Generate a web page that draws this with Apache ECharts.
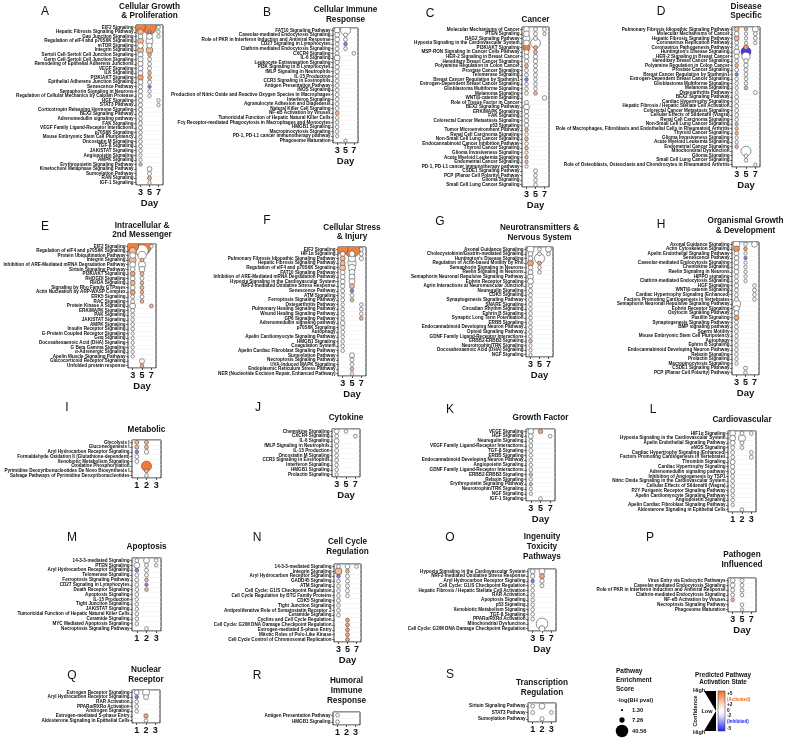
<!DOCTYPE html>
<html><head><meta charset="utf-8">
<script src="https://cdn.jsdelivr.net/npm/echarts/dist/echarts.min.js"></script>
<style>html,body{margin:0;padding:0;background:#fff}#chart{width:788px;height:742px}</style>
</head><body><div id="chart"></div>
<script>
const DAYS_357 = ['3','5','7'];
const DAYS_123 = ['1','2','3'];

const A_names = ['EIF2 Signaling','Hepatic Fibrosis Signaling Pathway','Gap Junction Signaling','Regulation of eIF4 and p70S6K Signaling','mTOR Signaling','Integrin Signaling','Sertoli Cell-Sertoli Cell Junction Signaling','Germ Cell-Sertoli Cell Junction Signaling','Remodeling of Epithelial Adherens Junctions','VEGF Signaling','ILK Signaling','PI3K/AKT Signaling','Epithelial Adherens Junction Signaling','Senescence Pathway','Semaphorin Signaling in Neurons','Regulation of Cellular Mechanics by Calpain Protease','HGF Signaling','STAT3 Pathway','Corticotropin Releasing Hormone Signaling','BEX2 Signaling Pathway','Adrenomedullin signaling pathway','FAK Signaling','VEGF Family Ligand-Receptor Interactions','p70S6K Signaling','Mouse Embryonic Stem Cell Pluripotency','Oncostatin M Signaling','TGF-β Signaling','JAK/STAT Signaling','Angiopoietin Signaling','AMPK Signaling','Erythropoietin Signaling Pathway','Kinetochore Metaphase Signaling Pathway','Sumoylation Pathway','RAN Signaling','IGF-1 Signaling'];
const A_sizes = [
 [26,9,6,9,8, 9,7,7,7,6, 6,8,6,5,5, 5,4.5,4.5,4.5,4, 4,4,4,3.5,3.5, 3.5,3.5,3.5,3,3, 3],
 [50,2.5,9,14,7, 12,3.5,4,4,4, 3.5,4,4,3,3, 3,0,0,0,0, 0,0,0,0,0, 0,0,0,0,0, 0,6,4,4,3],
 [3.5,3,3,0,0, 0,0,0,0,0, 0,0,0,0,0, 0,3,3]];
const A_zs = [
 [4.5,3,0,3,0, 3,0,0,0,0, 0,3.5,0,0,0, 0,0,0,0,0, 0,0,0,0,0, 0,0,0,0,0, 3],
 [4.5,-3,0,0,0, 3,3,0,0,0, 3,3,0,-3.5,0, 0,0,0,0,0, 0,0,0,0,0, 0,0,0,0,0, 0,0,0,3],
 []];

const B_names = ['FAT10 Signaling Pathway','Caveolar-mediated Endocytosis Signaling','Role of PKR in Interferon Induction and Antiviral Response','CD27 Signaling in Lymphocytes','Clathrin-mediated Endocytosis Signaling','CXCR4 Signaling','IL-6 Signaling','Leukocyte Extravasation Signaling','PI3K Signaling in B Lymphocytes','fMLP Signaling in Neutrophils','IL-15 Production','CCR3 Signaling in Eosinophils','Antigen Presentation Pathway','iNOS Signaling','Production of Nitric Oxide and Reactive Oxygen Species in Macrophages','Interferon Signaling','Agranulocyte Adhesion and Diapedesis','Natural Killer Cell Signaling','NF-κB Activation by Viruses','Tumoricidal Function of Hepatic Natural Killer Cells','Fcγ Receptor-mediated Phagocytosis in Macrophages and Monocytes','HMGB1 Signaling','Macropinocytosis Signaling','PD-1, PD-L1 cancer immunotherapy pathway','Phagosome Maturation'];
const B_sizes = [
 [9,6,6,4,4, 4,9,5,5,5, 4,4,4,4,4, 4,4,4,4,3.5, 3.5,3.5,3.5,3],
 [26,4,4,3.5,3.5, 0,0,0,0,0, 0,0,0,0,0, 0,0,0,0,0, 0,0,0,0,3],
 [0,0,0,0,0, 3.5]];
const B_zs = [[0,0,0,0,0, 0,0,0,0,0, 0,0,0,0,0, 0,0,0,3],[0,0,0,-3.5],[]];

const C_names = ['Molecular Mechanisms of Cancer','PTEN Signaling','BAG2 Signaling Pathway','Hypoxia Signaling in the Cardiovascular System','PI3K/AKT Signaling','MSP-RON Signaling In Cancer Cells Pathway','HER-2 Signaling in Breast Cancer','Hereditary Breast Cancer Signaling','Polyamine Regulation in Colon Cancer','Prostate Cancer Signaling','Telomerase Signaling','Breast Cancer Regulation by Stathmin1','Estrogen-Dependent Breast Cancer Signaling','Glioblastoma Multiforme Signaling','Melanoma Signaling','WNT/β-catenin Signaling','Role of Tissue Factor in Cancer','BEX2 Signaling Pathway','ERK/MAPK Signaling','FAK Signaling','Colorectal Cancer Metastasis Signaling','p53 Signaling','Tumor Microenvironment Pathway','Renal Cell Carcinoma Signaling','Non-Small Cell Lung Cancer Signaling','Endocannabinoid Cancer Inhibition Pathway','Thyroid Cancer Signaling','Glioma Invasiveness Signaling','Acute Myeloid Leukemia Signaling','Endometrial Cancer Signaling','PD-1, PD-L1 cancer immunotherapy pathway','CSDE1 Signaling Pathway','PCP (Planar Cell Polarity) Pathway','Glioma Signaling','Small Cell Lung Cancer Signaling'];
const C_sizes = [
 [9,9,13,9,13, 6,6,5,4,4, 4,3.5,3.5,3.5,3.5, 0,4,9,5,5, 5,5,3.5,3.5,3.5, 3.5,3.5,3,3,3, 3],
 [4,4,4,26,4, 4,5,5,4,4, 4,3.5,3.5,3.5,3.5, 0,0,0,0,0, 0,0,0,0,0, 0,0,0,0,0, 0,4,3.5,3.5,3.5],
 [4,3,0,0,0, 0,0,0,0,0, 0,0,0,0,0, 5]];
const C_zs = [
 [0,0,0,0,4.5, 0,0,0,3,0, 0,-3.5,0,0,0, 0,0,0,0,0, 0,0,3,0,3, 0,3,0,3,3],
 [0,0,0,0,3.5, 3,0,0,0,0, 0,0,0,0,3],
 []];

const D_names = ['Pulmonary Fibrosis Idiopathic Signaling Pathway','Molecular Mechanisms of Cancer','Hepatic Fibrosis Signaling Pathway','Coronavirus Replication Pathway','Coronavirus Pathogenesis Pathway',"Huntington's Disease Signaling",'HER-2 Signaling in Breast Cancer','Hereditary Breast Cancer Signaling','Polyamine Regulation in Colon Cancer','Prostate Cancer Signaling','Breast Cancer Regulation by Stathmin1','Estrogen-Dependent Breast Cancer Signaling','Glioblastoma Multiforme Signaling','Melanoma Signaling','Osteoarthritis Pathway','BEX2 Signaling Pathway','Cardiac Hypertrophy Signaling','Hepatic Fibrosis / Hepatic Stellate Cell Activation','Colorectal Cancer Metastasis Signaling','Cellular Effects of Sildenafil (Viagra)','Renal Cell Carcinoma Signaling','Non-Small Cell Lung Cancer Signaling','Role of Macrophages, Fibroblasts and Endothelial Cells in Rheumatoid Arthritis','Thyroid Cancer Signaling','Glioma Invasiveness Signaling','Acute Myeloid Leukemia Signaling','Endometrial Cancer Signaling','Mitochondrial Dysfunction','Glioma Signaling','Small Cell Lung Cancer Signaling','Role of Osteoblasts, Osteoclasts and Chondrocytes in Rheumatoid Arthritis'];
const D_sizes = [
 [6.5,6,6.5,4,4, 9,6,4,3.5,4, 3,3.5,3.5,3,3, 4,4,4,4,4, 3.5,3,3,3,3, 3,3.5],
 [3,3,3,3,6, 26,17,5,5,4, 4,3.5,3.5,3.5,0, 0,0,0,0,0, 0,0,0,0,0, 0,0,26,3.5,3.5],
 [9,4,4,3,0, 0,0,0,0,0, 0,0,0,0,4, 0,0,0,0,0, 0,0,0,0,0, 0,0,0,0,0, 3]];
const D_zs = [
 [3,0,3,0,0, 0,0,0,3,0, -3.5,0,0,0,0, 0,0,0,0,0, 0,3,3,3,0, 0,3],
 [3,0,0,0,4, -4.6,0,0,0,0, 0,0,0,3],
 []];

const E_names = ['EIF2 Signaling','Regulation of eIF4 and p70S6K Signaling','Protein Ubiquitination Pathway','Integrin Signaling','Inhibition of ARE-Mediated mRNA Degradation Pathway','Sirtuin Signaling Pathway','PI3K/AKT Signaling','RHOGDI Signaling','RHOA Signaling','Signaling by Rho Family GTPases','Actin Nucleation by ARP-WASP Complex','ERK5 Signaling','RAC Signaling','Protein Kinase A Signaling','ERK/MAPK Signaling','PAK Signaling','JAK/STAT Signaling','AMPK Signaling','Insulin Receptor Signaling','G-Protein Coupled Receptor Signaling','Gαq Signaling','Docosahexaenoic Acid (DHA) Signaling','G Beta Gamma Signaling','α-Adrenergic Signaling','Apelin Muscle Signaling Pathway','Glucocorticoid Receptor Signaling','Unfolded protein response'];
const E_sizes = [
 [37,13,9,13,9, 6,6.5,6,6,6, 6.5,4,4,9,4, 3.5,3.5,3.5,3.5,3, 3,3,3,3,3],
 [90,40,17,3.5,13, 9,4,4,3.5,4, 3.5,4,3.5,0,0, 0,0,0,0,0, 0,0,0,0,0, 6.5,3.5],
 [3.5,0,0,0,0, 0,0,0,0,0, 0,0,0,3.5]];
const E_zs = [
 [4.5,3,0,3,0, 0,3.5,0,3,0, 3.5],
 [4.5,0,0,3,0, 0,3,0,3,3, 3,0,3,0,0, 0,0,0,0,0, 0,0,0,0,0, 0,3],
 [0,0,0,0,0, 0,0,0,0,0, 0,0,0,3]];

const F_names = ['EIF2 Signaling','HIF1α Signaling','Pulmonary Fibrosis Idiopathic Signaling Pathway','Hepatic Fibrosis Signaling Pathway','Regulation of eIF4 and p70S6K Signaling','FAT10 Signaling Pathway','Inhibition of ARE-Mediated mRNA Degradation Pathway','Hypoxia Signaling in the Cardiovascular System','NRF2-mediated Oxidative Stress Response','Senescence Pathway','ATM Signaling','Ferroptosis Signaling Pathway','Osteoarthritis Pathway','Pulmonary Healing Signaling Pathway','Wound Healing Signaling Pathway','GP6 Signaling Pathway','Adrenomedullin signaling pathway','p70S6K Signaling','Autophagy','Apelin Cardiomyocyte Signaling Pathway','HMGB1 Signaling','Coagulation System','Apelin Cardiac Fibroblast Signaling Pathway','Sumoylation Pathway','Necroptosis Signaling Pathway','UVA-Induced MAPK Signaling','Endoplasmic Reticulum Stress Pathway','NER (Nucleotide Excision Repair, Enhanced Pathway)'];
const F_sizes = [
 [30,6.5,6.5,6.5,9, 6,6,6,5,4, 4,4,3.5,3.5,3.5, 3.5,6,4,4,3.5, 3.5,3.5,3.5],
 [66,9,13,17,13, 9,9,9,6,3.5, 4,3.5,0,0,0, 0,0,0,0,0, 0,0,0,6.5,4, 3.5,3.5,3],
 [3.5,4.5,4.5,0,0, 0,0,0,0,0, 0,0,3.5,3.5,3.5, 3.5]];
const F_zs = [
 [4.5,0,3,3,2.8],
 [4.5,0,0,0,0, 0,0,0,3,-3.5, 0,3,0,0,0, 0,0,0,0,0, 0,0,0,0,0, 0,3],
 [0,0,0,0,0, 0,0,0,0,0, 0,0,0,0,0, 3]];

const G_names = ['Axonal Guidance Signaling','Cholecystokinin/Gastrin-mediated Signaling',"Huntington's Disease Signaling",'Regulation of Actin-based Motility by Rho','Semaphorin Signaling in Neurons','Reelin Signaling in Neurons','Semaphorin Neuronal Repulsive Signaling Pathway','Ephrin Receptor Signaling','Agrin Interactions at Neuromuscular Junction','Neuregulin Signaling','CDK5 Signaling','Synaptogenesis Signaling Pathway','SNARE Signaling','Circadian Rhythm Signaling','Ephrin B Signaling','Synaptic Long Term Potentiation','ERBB Signaling','Endocannabinoid Developing Neuron Pathway','Opioid Signaling Pathway','GDNF Family Ligand-Receptor Interactions','ERBB2-ERBB3 Signaling','Neurotrophin/TRK Signaling','Docosahexaenoic Acid (DHA) Signaling','NGF Signaling'];
const G_sizes = [
 [13,6,6,9,6, 6,9,9,4,4, 4,4,3.5,3.5,3.5, 3.5,3.5,3.5,3.5,3.5, 3.5,3,3,3],
 [3.5,3.5,26,4,3.5, 3.5],
 [9,3.5]];
const G_zs = [[0,0,0,3.5,0, 0,0,0,0,0, 0,0,0,0,0, 0,0,0,0,0, 3],[0,0,0,3.5],[]];

const H_names = ['Axonal Guidance Signaling','Actin Cytoskeleton Signaling','Apelin Endothelial Signaling Pathway','Senescence Pathway','Caveolar-mediated Endocytosis Signaling','Chemokine Signaling','Reelin Signaling in Neurons','HIPPO signaling','Clathrin-mediated Endocytosis Signaling','HGF Signaling','WNT/β-catenin Signaling','Cardiac Hypertrophy Signaling (Enhanced)','Factors Promoting Cardiogenesis in Vertebrates','Semaphorin Neuronal Repulsive Signaling Pathway','Ephrin Receptor Signaling','Oxytocin Signaling Pathway','Paxillin Signaling','Synaptogenesis Signaling Pathway','BMP signaling pathway','Sperm Motility','Mouse Embryonic Stem Cell Pluripotency','Autophagy','Ephrin B Signaling','Endocannabinoid Developing Neuron Pathway','Relaxin Signaling','Prolactin Signaling','Macropinocytosis Signaling','CSDE1 Signaling Pathway','PCP (Planar Cell Polarity) Pathway'];
const H_sizes = [
 [13,9,6,6,6, 6,6,4,4,5, 4,4,4,17,9, 6,6.5,4,4,4, 3.5,3.5,3.5,3.5,3.5, 3,3],
 [3.5,3.5,3,3,3, 3,3,3,3,0, 0,0,0,0,0, 0,0,0,0,0, 0,0,0,0,0, 0,0,4,3.5],
 [9,0,0,0,0, 0,0,0,0,3.5, 4,3.5,3.5]];
const H_zs = [[0,4,0,0,0, 0,0,0,0,0, 0,0,0,0,0, 0,3.5],[0,3.5,0,-3.5],[]];

const I_names = ['Glycolysis I','Gluconeogenesis I','Aryl Hydrocarbon Receptor Signaling','Formaldehyde Oxidation II (Glutathione-dependent)','Xenobiotic Metabolism Signaling','Oxidative Phosphorylation','Pyrimidine Deoxyribonucleotides De Novo Biosynthesis I','Salvage Pathways of Pyrimidine Deoxyribonucleotides'];
const I_sizes = [[4,4,3.5,4,4],[4,4,5,0,0, 26,4,3.5],[]];
const I_zs = [[3,3,-3.5],[3,3,0,0,0, 4.6,3],[]];

const J_names = ['Chemokine Signaling','CXCR4 Signaling','IL-6 Signaling','fMLP Signaling in Neutrophils','IL-15 Production','Oncostatin M Signaling','CCR3 Signaling in Eosinophils','Interferon Signaling','HMGB1 Signaling','Prolactin Signaling'];
const J_sizes = [[6,4,6,4,4, 4,4,3.5,3.5,3],[3.5],[0,3.5]];
const J_zs = [[],[],[]];

const K_names = ['VEGF Signaling','HGF Signaling','Neuregulin Signaling','VEGF Family Ligand-Receptor Interactions','TGF-β Signaling','ERBB Signaling','Endocannabinoid Developing Neuron Pathway','Angiopoietin Signaling','GDNF Family Ligand-Receptor Interactions','ERBB2-ERBB3 Signaling','Relaxin Signaling','Erythropoietin Signaling Pathway','Neurotrophin/TRK Signaling','NGF Signaling','IGF-1 Signaling'];
const K_sizes = [[9,6,4,4,4, 3.5,3.5,3.5,3.5,3.5, 3.5,3,3,3],[5,0,0,0,0, 0,0,0,0,0, 0,0,0,0,3.5],[0,3.5]];
const K_zs = [[0,0,0,0,0, 0,0,0,0,3, 0,3],[3.5],[]];

const L_names = ['HIF1α Signaling','Hypoxia Signaling in the Cardiovascular System','Apelin Endothelial Signaling Pathway','eNOS Signaling','Cardiac Hypertrophy Signaling (Enhanced)','Factors Promoting Cardiogenesis in Vertebrates','Thrombin Signaling','Cardiac Hypertrophy Signaling','Adrenomedullin signaling pathway','Inhibition of Angiogenesis by TSP1','Nitric Oxide Signaling in the Cardiovascular System','Cellular Effects of Sildenafil (Viagra)','P2Y Purigenic Receptor Signaling Pathway','Apelin Cardiomyocyte Signaling Pathway','Angiopoietin Signaling','Apelin Cardiac Fibroblast Signaling Pathway','Aldosterone Signaling in Epithelial Cells'];
const L_sizes = [[9,9,6.5,4,4, 4,6.5,5,5,4, 4,4,4,3.5,3.5, 3],[4,13,4,3.5,0, 0,0,0,0,0, 0,0,0,0,0, 0,3.5],[3.5,0,0,0,3.5, 4]];
const L_zs = [[],[],[]];

const M_names = ['14-3-3-mediated Signaling','PTEN Signaling','Aryl Hydrocarbon Receptor Signaling','Telomerase Signaling','Ferroptosis Signaling Pathway','CD27 Signaling in Lymphocytes','Death Receptor Signaling','Apoptosis Signaling','IL-15 Production','Tight Junction Signaling','JAK/STAT Signaling','Tumoricidal Function of Hepatic Natural Killer Cells','Ceramide Signaling','MYC Mediated Apoptosis Signaling','Necroptosis Signaling Pathway'];
const M_sizes = [[4,9,3.5,4,4, 4,4,4,3.5,3.5, 3.5,3.5,3.5,3.5],[9,4,4,4,3.5, 3,3.5,0,0,0, 0,0,0,0,3.5],[3.5,3]];
const M_zs = [[0,0,-3.5],[0,0,0,0,3, -3.5,3],[]];

const N_names = ['14-3-3-mediated Signaling','Integrin Signaling','Aryl Hydrocarbon Receptor Signaling','GADD45 Signaling','ATM Signaling','Cell Cycle: G1/S Checkpoint Regulation','Cell Cycle Regulation by BTG Family Proteins','CDK5 Signaling','Tight Junction Signaling','Antiproliferative Role of Somatostatin Receptor 2','Ceramide Signaling','Cyclins and Cell Cycle Regulation','Cell Cycle: G2/M DNA Damage Checkpoint Regulation','Estrogen-mediated S-phase Entry','Mitotic Roles of Polo-Like Kinase','Cell Cycle Control of Chromosomal Replication'];
const N_sizes = [[4,13,3.5,3.5,3.5, 3.5,3.5,4,3.5,3.5, 3.5],[6,3.5,4,4,4, 4,3.5,0,0,0, 0,4,4,4,4, 4],[3.5]];
const N_zs = [[0,3,-3.5],[0,3,0,0,0, 0,0,0,0,0, 0,3.5,3.5,3.5,3.5, 3.5],[]];

const O_names = ['Hypoxia Signaling in the Cardiovascular System','NRF2-mediated Oxidative Stress Response','Aryl Hydrocarbon Receptor Signaling','Cell Cycle: G1/S Checkpoint Regulation','Hepatic Fibrosis / Hepatic Stellate Cell Activation','RAR Activation','Apoptosis Signaling','p53 Signaling','Xenobiotic Metabolism Signaling','TGF-β Signaling','PPARα/RXRα Activation','Mitochondrial Dysfunction','Cell Cycle: G2/M DNA Damage Checkpoint Regulation'];
const O_sizes = [[6,5,3.5,3.5,3.5, 3.5,3.5,3.5,3.5,3.5, 3.5],[9,6.5,5,4,0, 0,0,0,0,0, 0,35,9],[]];
const O_zs = [[0,0,-3.5],[0,3.5],[]];

const P_names = ['Virus Entry via Endocytic Pathways','Caveolar-mediated Endocytosis Signaling','Role of PKR in Interferon Induction and Antiviral Response','Clathrin-mediated Endocytosis Signaling','NF-κB Activation by Viruses','Necroptosis Signaling Pathway','Phagosome Maturation'];
const P_sizes = [[6,6,4,4,3.5],[4.5,4,4,3.5,0, 3.5,3],[]];
const P_zs = [[0,0,0,0,3],[],[]];

const Q_names = ['Estrogen Receptor Signaling','Aryl Hydrocarbon Receptor Signaling','RAR Activation','PPARα/RXRα Activation','Androgen Signaling','Estrogen-mediated S-phase Entry','Aldosterone Signaling in Epithelial Cells'];
const Q_sizes = [[6,3.5,3.5,3.5,3.5],[13,6.5,0,0,0, 5,3.5],[]];
const Q_zs = [[0,-3.5],[0,0,0,0,0, 3.5],[]];

const R_names = ['Antigen Presentation Pathway','HMGB1 Signaling'];
const R_sizes = [[3.5,3.5],[],[]];
const R_zs = [[],[],[]];

const S_names = ['Sirtuin Signaling Pathway','STAT3 Pathway','Sumoylation Pathway'];
const S_sizes = [[4,4],[9,0,4.5],[0,3.5]];
const S_zs = [[],[],[]];

const LEGEND_SIZES = [1.30, 7.26, 40.56];
const LEGEND_SIZE_LABELS = ['1.30','7.26','40.56'];

const PANELS = [
 {key:'A', names:A_names, sizes:A_sizes, zs:A_zs, days:DAYS_357, title:['Cellular Growth','& Proliferation'], day:true},
 {key:'B', names:B_names, sizes:B_sizes, zs:B_zs, days:DAYS_357, title:['Cellular Immune','Response'], day:true},
 {key:'C', names:C_names, sizes:C_sizes, zs:C_zs, days:DAYS_357, title:['Cancer'], day:true},
 {key:'D', names:D_names, sizes:D_sizes, zs:D_zs, days:DAYS_357, title:['Disease','Specific'], day:true},
 {key:'E', names:E_names, sizes:E_sizes, zs:E_zs, days:DAYS_357, title:['Intracellular &','2nd Messenger'], day:true},
 {key:'F', names:F_names, sizes:F_sizes, zs:F_zs, days:DAYS_357, title:['Cellular Stress','& Injury'], day:true},
 {key:'G', names:G_names, sizes:G_sizes, zs:G_zs, days:DAYS_357, title:['Neurotransmitters &','Nervous System'], day:true},
 {key:'H', names:H_names, sizes:H_sizes, zs:H_zs, days:DAYS_357, title:['Organismal Growth','& Development'], day:true},
 {key:'I', names:I_names, sizes:I_sizes, zs:I_zs, days:DAYS_123, title:['Metabolic'], day:false},
 {key:'J', names:J_names, sizes:J_sizes, zs:J_zs, days:DAYS_357, title:['Cytokine'], day:true},
 {key:'K', names:K_names, sizes:K_sizes, zs:K_zs, days:DAYS_357, title:['Growth Factor'], day:true},
 {key:'L', names:L_names, sizes:L_sizes, zs:L_zs, days:DAYS_123, title:['Cardiovascular'], day:false},
 {key:'M', names:M_names, sizes:M_sizes, zs:M_zs, days:DAYS_123, title:['Apoptosis'], day:false},
 {key:'N', names:N_names, sizes:N_sizes, zs:N_zs, days:DAYS_357, title:['Cell Cycle','Regulation'], day:true},
 {key:'O', names:O_names, sizes:O_sizes, zs:O_zs, days:DAYS_357, title:['Ingenuity','Toxicity','Pathways'], day:true},
 {key:'P', names:P_names, sizes:P_sizes, zs:P_zs, days:DAYS_357, title:['Pathogen','Influenced'], day:true},
 {key:'Q', names:Q_names, sizes:Q_sizes, zs:Q_zs, days:DAYS_123, title:['Nuclear','Receptor'], day:false},
 {key:'R', names:R_names, sizes:R_sizes, zs:R_zs, days:DAYS_123, title:['Humoral','Immune','Response'], day:false},
 {key:'S', names:S_names, sizes:S_sizes, zs:S_zs, days:DAYS_123, title:['Transcription','Regulation'], day:false}
];

// layout: box [left, top, width, height], letter position, title line y positions
const LAYOUT = {
 A:{box:[136,25,27,160], letter:[45,12], ty:[7,16]},
 B:{box:[333,28,25,115], letter:[267,13], ty:[10,20]},
 C:{box:[522,27,27,160], letter:[430,14], ty:[20]},
 D:{box:[732,27,28,140], letter:[661,12], ty:[7,16]},
 E:{box:[128,244,28,124], letter:[45,227], ty:[226,235]},
 F:{box:[338,247,28,129], letter:[267,221], ty:[228,237]},
 G:{box:[526,247,27,110], letter:[440,222], ty:[228,238]},
 H:{box:[732,242,27,133], letter:[661,225], ty:[221,231]},
 I:{box:[132,440,29,38], letter:[67,408], ty:[430]},
 J:{box:[332,429,28,48], letter:[258,408], ty:[418]},
 K:{box:[526,429,29,72], letter:[450,410], ty:[418]},
 L:{box:[728,431,28,81], letter:[653,410], ty:[420]},
 M:{box:[132,558,29,73], letter:[72,538], ty:[547]},
 N:{box:[334,564,27,78], letter:[257,538], ty:[542,552]},
 O:{box:[528,569,28,62], letter:[450,538], ty:[537,547,557]},
 P:{box:[728,578,28,34], letter:[650,538], ty:[555,565]},
 Q:{box:[132,690,28,33], letter:[72,676], ty:[670,680]},
 R:{box:[333,712,27,13], letter:[257,676], ty:[681,691,701]},
 S:{box:[528,703,28,19], letter:[450,675], ty:[683,693]}
};

const FONT = '"Liberation Sans", Arial, Helvetica, sans-serif';
const WHITE=[255,255,255], ORANGE=[242,107,31], PEACH=[252,224,204], LBLUE=[224,224,252], BLUE=[32,32,255];
function mix(a,b,t){return a.map((v,i)=>Math.round(v+(b[i]-v)*t));}
function zColor(z){
  let c;
  if (z>=0){ c = z<=2 ? mix(WHITE,PEACH,z/2) : mix(PEACH,ORANGE,(Math.min(z,5)-2)/3); }
  else { const a=-z; c = a<=2 ? mix(WHITE,LBLUE,a/2) : mix(LBLUE,BLUE,(Math.min(a,5)-2)/3); }
  return 'rgb('+c.join(',')+')';
}
function diam(v){ return 1.96*Math.sqrt(v); }

const grids=[], xAxes=[], yAxes=[], series=[], graphics=[];
function txt(x,y,text,size,weight,align,vAlign,color,extra){
  const g = {type:'text', x:x, y:y, silent:true, z:10, style:{text:text, fontSize:size, fontWeight:weight||'bold', fontFamily:FONT, fill:color||'#111', align:align||'center', verticalAlign:vAlign||'middle'}};
  if (extra) Object.assign(g, extra);
  graphics.push(g);
}

function renderBubble(params, api){
  const pt = api.coord([api.value(0), api.value(1)]);
  const r = diam(api.value(2))/2;
  return {type:'circle', shape:{cx:pt[0], cy:pt[1], r:r},
    style:{fill:zColor(api.value(3)), stroke:'#4a4a4a', lineWidth:0.6}};
}

PANELS.forEach((p,i)=>{
  const L = LAYOUT[p.key];
  const [left, top, width, height] = L.box;
  grids.push({left:left, top:top, width:width, height:height, show:true, borderColor:'#2b2b2b', borderWidth:1, backgroundColor:'#fff', containLabel:false});
  xAxes.push({gridIndex:i, type:'category', data:p.days, boundaryGap:true,
    axisLine:{show:false}, axisTick:{show:true, alignWithLabel:true, length:2, lineStyle:{color:'#2b2b2b', width:0.8}},
    axisLabel:{fontSize:9, fontWeight:'bold', fontFamily:FONT, color:'#111', margin:3},
    splitLine:{show:false},
    name:p.day?'Day':'', nameLocation:'middle', nameGap:12,
    nameTextStyle:{fontSize:9.5, fontWeight:'bold', fontFamily:FONT, color:'#111'}});
  yAxes.push({gridIndex:i, type:'category', data:p.names, inverse:true, boundaryGap:true,
    axisLine:{show:false}, axisTick:{show:true, alignWithLabel:true, length:2, lineStyle:{color:'#2b2b2b', width:0.6}},
    axisLabel:{interval:0, fontSize:4.6, fontWeight:'bold', fontFamily:FONT, color:'#111', margin:2.5},
    splitLine:{show:true, lineStyle:{color:'#ededed', width:0.5}}});
  const data=[];
  p.sizes.forEach((arr,d)=>arr.forEach((v,r)=>{
    if (v>0) data.push([d, r, v, (p.zs[d]||[])[r]||0]);
  }));
  data.sort((a,b)=>b[2]-a[2]);
  series.push({type:'custom', xAxisIndex:i, yAxisIndex:i, data:data, clip:true, silent:true,
    dimensions:['day','row','size','z'], encode:{x:0, y:1}, renderItem:renderBubble, z:3});
  txt(L.letter[0], L.letter[1], p.key, 12, 'normal');
  const cx = left + width/2;
  p.title.forEach((t,k)=>txt(cx, L.ty[k], t, 8.2, 'bold'));
});

// enrichment legend
txt(616,671,'Pathway',6.5,'bold','left');
txt(616,680,'Enrichment',6.5,'bold','left');
txt(616,689,'Score',6.5,'bold','left');
txt(617,700,'-log(BH pval)',5.8,'bold','left');
const LEG_Y = [710,720,731];
LEGEND_SIZES.forEach((v,k)=>{
  graphics.push({type:'circle', silent:true, shape:{cx:622, cy:LEG_Y[k], r:diam(v)/2}, style:{fill:'#000'}});
  txt(632, LEG_Y[k], LEGEND_SIZE_LABELS[k], 5.8, 'bold', 'left');
});
// activation state legend
txt(723,675,'Predicted Pathway',6.3,'bold');
txt(723,682.5,'Activation State',6.3,'bold');
graphics.push({type:'rect', silent:true, shape:{x:718,y:691,width:7,height:40},
  style:{fill:new echarts.graphic.LinearGradient(0,0,0,1,[
    {offset:0,color:'rgb(242,107,31)'},{offset:0.35,color:'rgb(252,224,204)'},{offset:0.5,color:'#ffffff'},
    {offset:0.62,color:'rgb(224,224,252)'},{offset:1,color:'rgb(32,32,255)'}]), stroke:'#333', lineWidth:0.5}});
graphics.push({type:'polygon', silent:true, shape:{points:[[704,691],[716,691],[716,711]]}, style:{fill:'#000'}});
graphics.push({type:'polygon', silent:true, shape:{points:[[716,711],[716,731],[704,731]]}, style:{fill:'#000'}});
txt(699,690,'High',5.5,'bold');
txt(699,732,'High',5.5,'bold');
txt(707,711,'Low',5.5,'bold');
txt(695,711,'Confidence',5.7,'bold','center','middle','#111',{rotation:Math.PI/2});
txt(727,694,'+5',4.8,'bold','left');
txt(727,700,'(Activated)',4.5,'bold','left','middle','rgb(242,107,31)');
txt(727,705,'+2',4.8,'bold','left');
txt(727,711,'0',4.8,'bold','left');
txt(727,716,'-2',4.8,'bold','left');
txt(727,721.5,'(Inhibited)',4.5,'bold','left','middle','rgb(32,32,255)');
txt(727,729,'-5',4.8,'bold','left');

const chart = echarts.init(document.getElementById('chart'), null, {renderer:'canvas'});
chart.setOption({
  animation:false,
  backgroundColor:'#fff',
  textStyle:{fontFamily:FONT},
  grid:grids, xAxis:xAxes, yAxis:yAxes, series:series, graphic:graphics
});
</script></body></html>
